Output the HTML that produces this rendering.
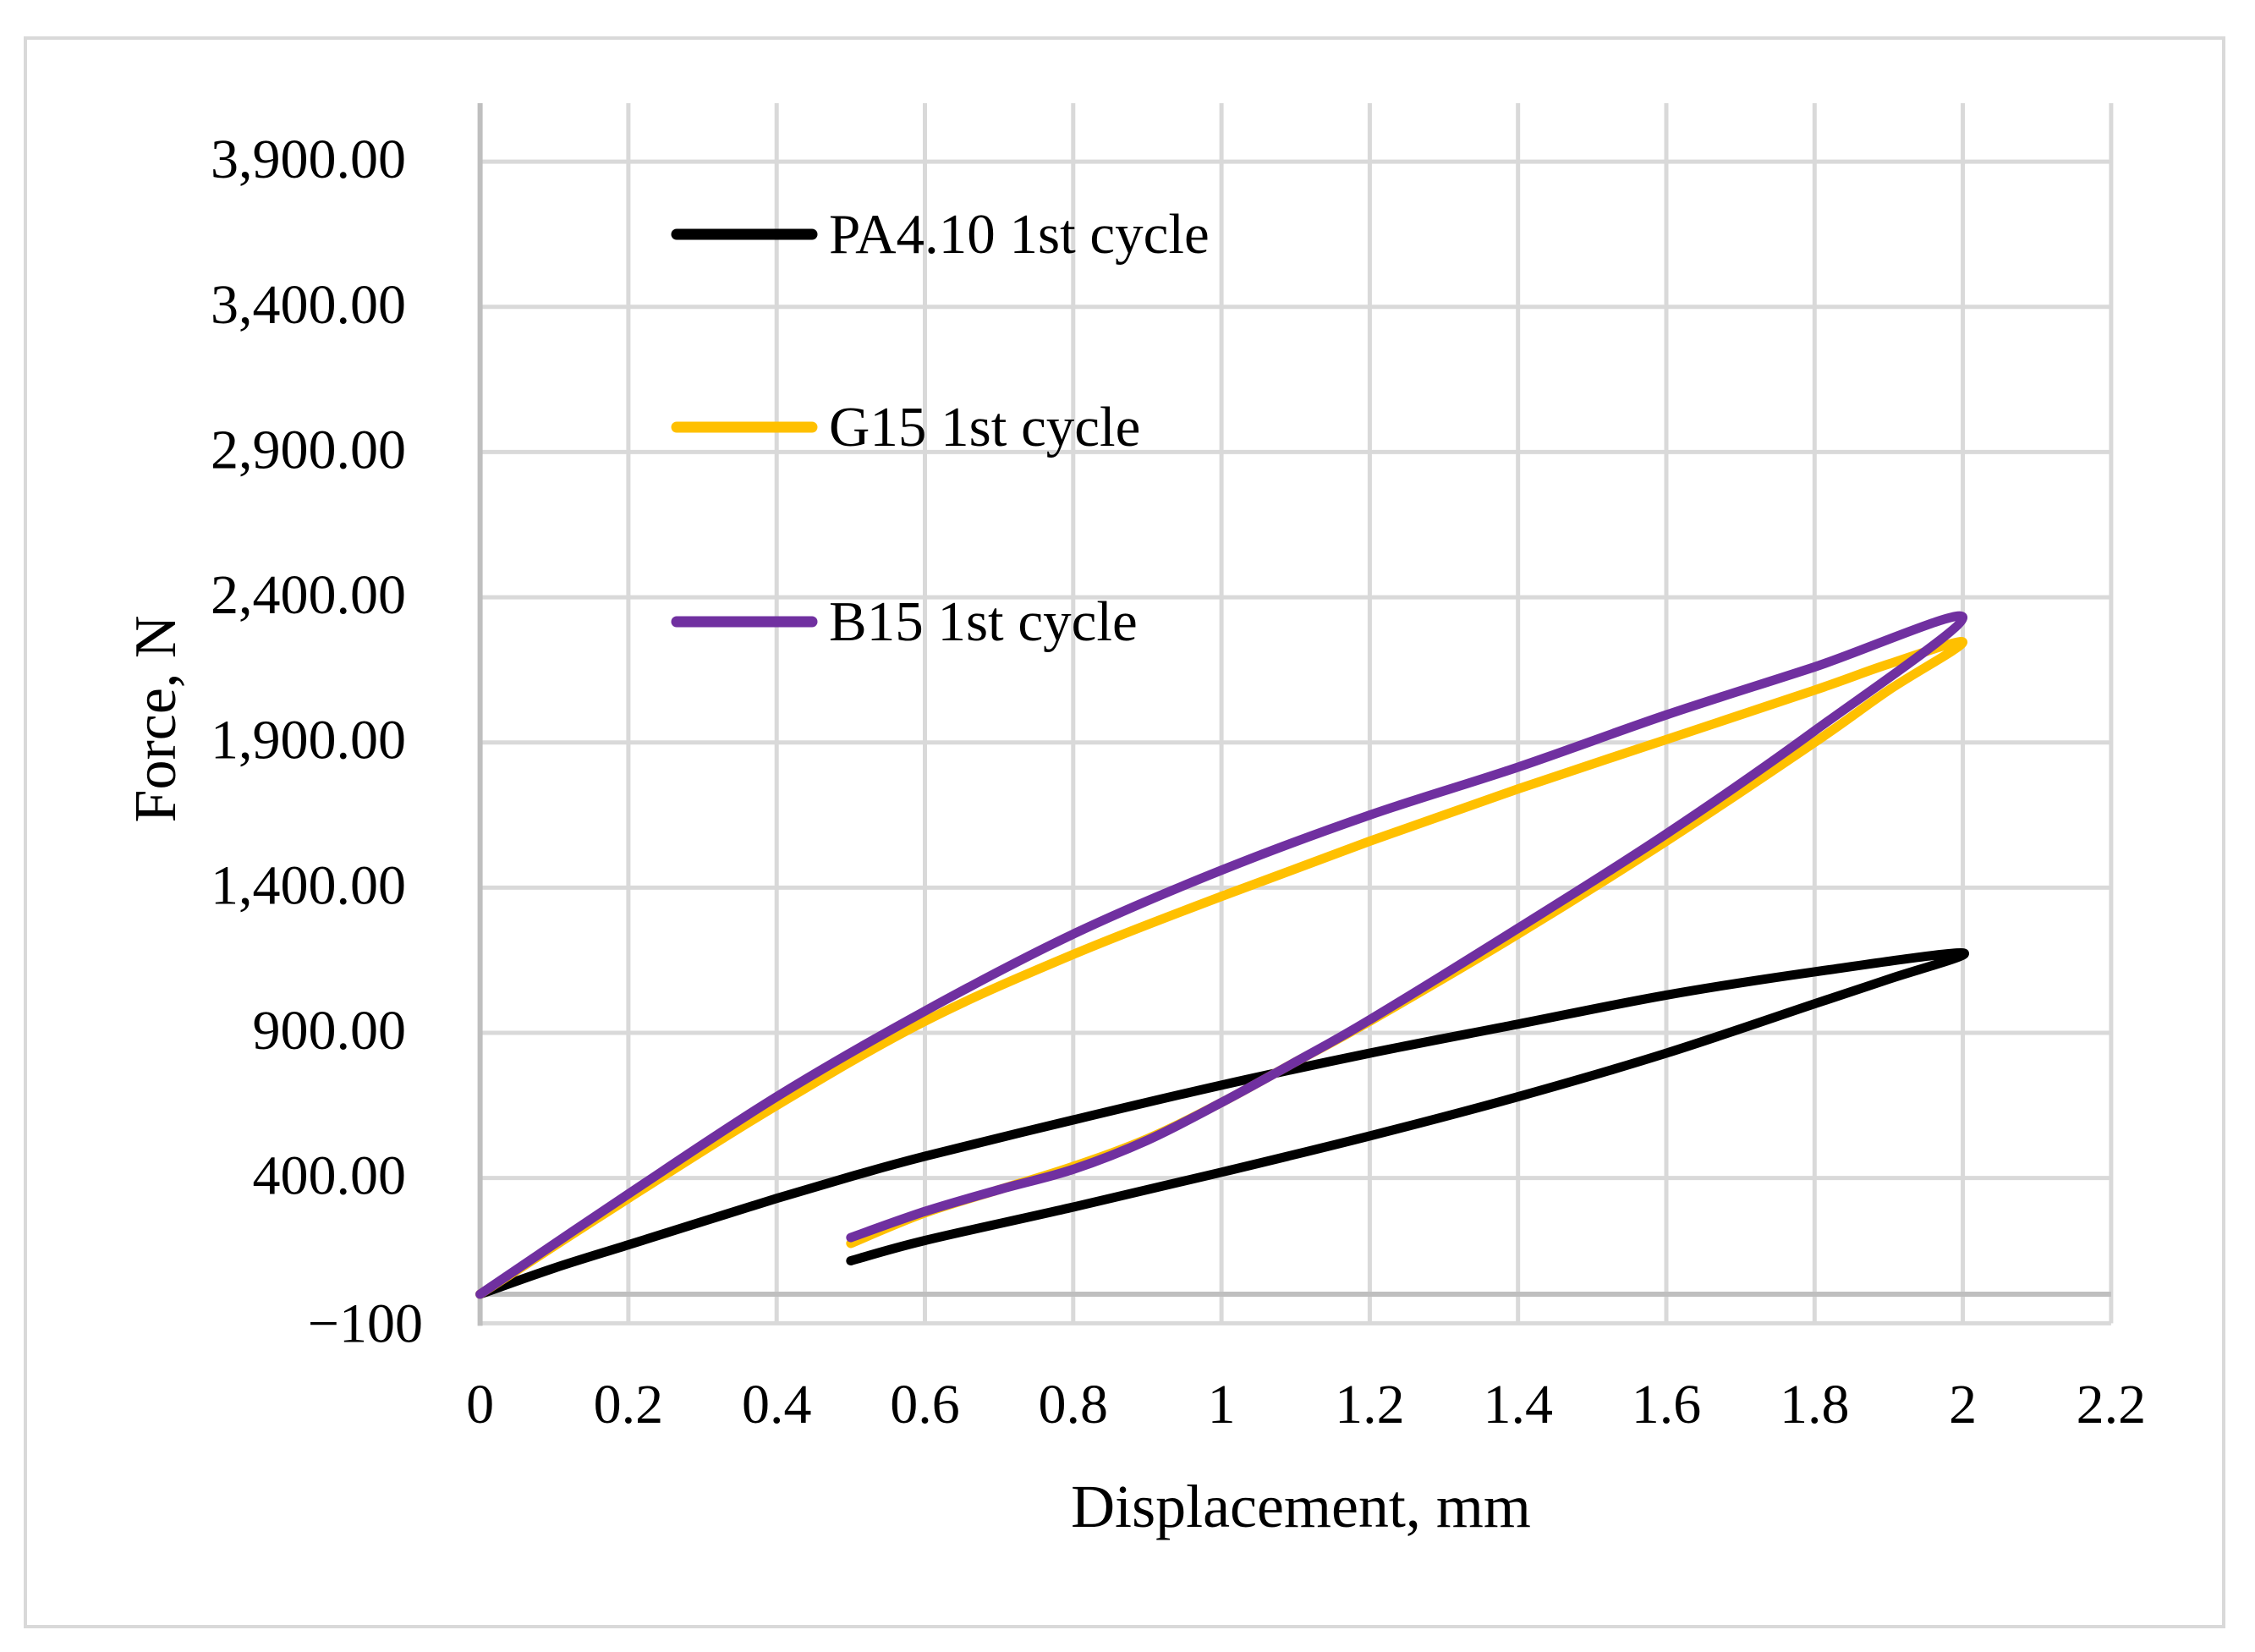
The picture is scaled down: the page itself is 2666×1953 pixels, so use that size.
<!DOCTYPE html>
<html><head><meta charset="utf-8"><style>
html,body{margin:0;padding:0;background:#fff}
svg{display:block}
text{font-family:"Liberation Serif",serif;fill:#000}
</style></head><body>
<svg id="chart" width="2666" height="1953" viewBox="0 0 2666 1953" xmlns="http://www.w3.org/2000/svg">
<rect x="30" y="45" width="2599" height="1878" fill="#fff" stroke="#d9d9d9" stroke-width="4"/>
<g id="grid"></g>
<g id="axes"></g>
<g id="series"></g>
<text x="0" y="0" font-size="70" text-anchor="middle" transform="translate(207,850) rotate(-90)">Force, N</text>
<text x="1538" y="1805" font-size="72" text-anchor="middle">Displacement, mm</text>
<g>
<g><line x1="800" y1="277" x2="960" y2="277" stroke="#000" stroke-width="13" stroke-linecap="round"/><text x="980" y="299" font-size="67">PA4.10 1st cycle</text></g>
<g><line x1="800" y1="505" x2="960" y2="505" stroke="#FFC000" stroke-width="13" stroke-linecap="round"/><text x="980" y="527" font-size="67">G15 1st cycle</text></g>
<g><line x1="800" y1="735" x2="960" y2="735" stroke="#7030A0" stroke-width="13" stroke-linecap="round"/><text x="980" y="757" font-size="67">B15 1st cycle</text></g>
</g>
</svg>
<script>
const xTicks = [0,0.2,0.4,0.6,0.8,1,1.2,1.4,1.6,1.8,2,2.2];
const xTickLabels = ["0","0.2","0.4","0.6","0.8","1","1.2","1.4","1.6","1.8","2","2.2"];
const yTicks = [-100,400,900,1400,1900,2400,2900,3400,3900];
const yTickLabels = ["\u2212100","400.00","900.00","1,400.00","1,900.00","2,400.00","2,900.00","3,400.00","3,900.00"];

const paX = [0,0.1,0.2,0.3,0.4,0.5,0.6,0.8,1.0,1.2,1.4,1.6,1.8,2.0,1.9,1.8,1.6,1.4,1.2,1.0,0.8,0.6,0.5];
const paY = [0,90,170,250,330,405,475,600,720,830,930,1030,1110,1175,1085,1000,830,680,545,420,300,185,115];
const gX = [0,0.2,0.4,0.6,0.8,1.0,1.2,1.4,1.6,1.8,1.9,2.0,1.9,1.8,1.6,1.4,1.2,1.1,1.0,0.9,0.8,0.7,0.6,0.5];
const gY = [0,330,650,940,1170,1370,1560,1740,1910,2080,2170,2245,2080,1900,1560,1240,940,800,660,535,440,360,280,175];
const bX = [0,0.2,0.4,0.6,0.8,1.0,1.2,1.4,1.6,1.8,2.0,1.8,1.6,1.4,1.2,1.1,1.0,0.9,0.8,0.7,0.6,0.5];
const bY = [0,345,680,975,1240,1460,1650,1815,1995,2160,2330,1940,1585,1260,945,800,660,530,430,360,285,195];

const NS="http://www.w3.org/2000/svg";
function xs(v){return 567.6+v*876.5;}
function ys(v){return 1530-v*0.3433;}
const grid=document.getElementById('grid'), axes=document.getElementById('axes'), series=document.getElementById('series');
function mk(tag,attrs,parent){const e=document.createElementNS(NS,tag);for(const k in attrs)e.setAttribute(k,attrs[k]);parent.appendChild(e);return e;}
xTicks.forEach((t,i)=>{
  const l=mk('line',{x1:xs(t),x2:xs(t),y1:122,y2:ys(-100),stroke:'#d9d9d9','stroke-width':5},grid);
  
  
  const tx=mk('text',{x:xs(t),y:1682,'font-size':66,'text-anchor':'middle'},axes);
  tx.textContent=xTickLabels[i];
  
  
});
yTicks.forEach((t,i)=>{
  const l=mk('line',{x1:xs(0),x2:xs(2.2),y1:ys(t),y2:ys(t),stroke:'#d9d9d9','stroke-width':5},grid);
  
  
  const tx=mk('text',{x:i===0?500:480,y:ys(t)+(i===0?22:19),'font-size':66,'text-anchor':'end'},axes);
  tx.textContent=yTickLabels[i];
  
  
});
const xa=mk('line',{x1:xs(0),x2:xs(2.2),y1:ys(0),y2:ys(0),stroke:'#bfbfbf','stroke-width':6},axes);


const ya=mk('line',{x1:xs(0),x2:xs(0),y1:122,y2:ys(-100)+3,stroke:'#bfbfbf','stroke-width':6},axes);



function pathD(X,Y){
  const p=X.map((x,i)=>[xs(x),ys(Y[i])]);
  let d='M'+p[0][0]+','+p[0][1];
  for(let i=0;i<p.length-1;i++){
    const p0=p[i-1]||p[i],p1=p[i],p2=p[i+1],p3=p[i+2]||p2;
    const c1=[p1[0]+(p2[0]-p0[0])/6,p1[1]+(p2[1]-p0[1])/6];
    const c2=[p2[0]-(p3[0]-p1[0])/6,p2[1]-(p3[1]-p1[1])/6];
    d+=' C'+c1.join(',')+' '+c2.join(',')+' '+p2.join(',');
  }
  return d;
}
const s1=mk('path',{d:pathD(paX,paY),fill:'none',stroke:'#000','stroke-width':11,'stroke-linecap':'round','stroke-linejoin':'round'},series);


const s2=mk('path',{d:pathD(gX,gY),fill:'none',stroke:'#FFC000','stroke-width':11,'stroke-linecap':'round','stroke-linejoin':'round'},series);


const s3=mk('path',{d:pathD(bX,bY),fill:'none',stroke:'#7030A0','stroke-width':11,'stroke-linecap':'round','stroke-linejoin':'round'},series);


</script>
</body></html>
